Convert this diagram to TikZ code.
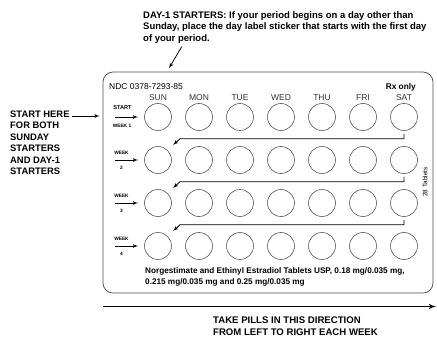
\documentclass[tikz,border=0pt]{standalone}
\usepackage{fontspec}
\setmainfont{Liberation Sans}
\usetikzlibrary{arrows,calc}

\begin{document}
\begin{tikzpicture}[x=1pt, y=-1pt, inner sep=0pt, >=latex',
  txt/.style={font=\fontsize{9.5}{11.4}\selectfont\bfseries, align=left, anchor=north west},
  pill/.style={circle, draw=black!65, line width=0.6pt, minimum size=27pt},
  day/.style={font=\fontsize{8.5}{9}\selectfont, text=black!80},
  wk/.style={font=\fontsize{4.8}{5}\selectfont\bfseries}]

\useasboundingbox (0,0) rectangle (437,337);

\node [txt] at (143, 11.5) (DAY1) {DAY-1 STARTERS: If your period begins on a day other than\\
Sunday, place the day label sticker that starts with the first day\\
of your period.};

\node [draw, black!70, line width=0.7pt, rounded corners=10pt, minimum width=330pt, minimum height=221pt] at (268, 182.5) (CARD) {};

\node [font=\fontsize{8.5}{9}\selectfont, anchor=west] at (109, 87) (NDC) {NDC 0378-7293-85};
\node [font=\fontsize{8.3}{9}\selectfont\bfseries, anchor=east] at (416, 87) (RX) {Rx only};

% pills, 4 weeks x 7 days
\foreach \r in {1,...,4} {
  \foreach \c in {1,...,7} {
    \node [pill] at ({158+41*(\c-1)}, {117+43*(\r-1)}) (P\r\c) {};
  }
}

\foreach \d [count=\c] in {SUN,MON,TUE,WED,THU,FRI,SAT}
  \node [day] at ($(P1\c)+(0,-19.3)$) (D\c) {\d};

%\draw [->, thick] (P17) to (P21);
\foreach \r/\nx in {1/2,2/3,3/4}
  \draw [->, thick] ($(P\r7.south)+(0,3)$) -- ++(0,5) -- ($(P\r1.south)+(22,8)$) -- ($(P\nx1)+(15,-15)$);

\node [wk, font=\fontsize{5.6}{6}\selectfont\bfseries] at ($(P11)+(-35.5,-9)$) (START) {START};
\node [wk] at ($(P11)+(-36,9)$) (WEEK1) {WEEK 1};
\draw [->, thick] ($(P11)+(-43,0)$) -- ($(P11)+(-20,0)$);

\foreach \r in {2,3,4} {
  \node [wk] at ($(P\r1)+(-36.5,-7.5)$) (WK\r) {WEEK};
  \node [wk] at ($(P\r1)+(-36.5,7.5)$) (N\r) {\r};
  \draw [->, thick] ($(P\r1)+(-43,0)$) -- ($(P\r1)+(-20,0)$);
}

\node [font=\fontsize{6.4}{7}\selectfont, rotate=90] at (425, 182) (TAB) {28 Tablets};

\node [txt, font=\fontsize{8.2}{10.5}\selectfont\bfseries] at (145, 267.5) (NAME) {Norgestimate and Ethinyl Estradiol Tablets USP, 0.18 mg/0.035 mg,\\
0.215 mg/0.035 mg and 0.25 mg/0.035 mg};

\node [txt, font=\fontsize{9.4}{11.5}\selectfont\bfseries] at (10, 110.5) (HERE) {START HERE\\
FOR BOTH\\
SUNDAY\\
STARTERS\\
AND DAY-1\\
STARTERS};

\coordinate (A1) at (181.7, 46.7);
\draw [->, thick] (A1) -- ($(CARD.north west)+(66.3,-3.4)$);
\draw [->, thick] ($(HERE.north east)+(2,5.5)$) -- ($(CARD.west |- HERE.north)+(-3,5.5)$);

\coordinate (L) at (103, 306.5);
\coordinate (R) at (436, 306.5);
\draw [->, line width=1.4pt] (L) -- (R);

\node [txt, font=\fontsize{9.6}{11.7}\selectfont\bfseries] at (213, 316.5) (TAKE) {TAKE PILLS IN THIS DIRECTION\\
FROM LEFT TO RIGHT EACH WEEK};

\end{tikzpicture}
\end{document}
